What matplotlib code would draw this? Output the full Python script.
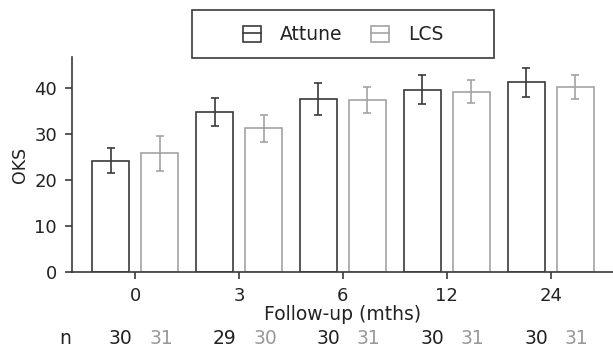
import matplotlib
matplotlib.use("Agg")
import matplotlib.pyplot as plt
from matplotlib.patches import Rectangle
from matplotlib.lines import Line2D
from matplotlib.legend_handler import HandlerTuple
import numpy as np

plt.rcParams['font.family'] = ['DejaVu Sans']

# data
months = ['0', '3', '6', '12', '24']
attune_mean = [24.2, 34.8, 37.5, 39.6, 41.2]
attune_err = [2.8, 3.1, 3.5, 3.2, 3.1]
lcs_mean = [25.8, 31.2, 37.4, 39.2, 40.1]
lcs_err = [3.8, 2.9, 2.8, 2.5, 2.6]
attune_n = [30, 29, 30, 30, 30]
lcs_n = [31, 30, 31, 31, 31]

dark = '#3a3a3a'
gray = '#a3a3a3'
txt = '#222222'

fig = plt.figure(figsize=(6.13, 3.49), dpi=100)
ax = fig.add_axes([0.118, 0.2206, 0.882, 0.616])

x = np.arange(len(months))
w = 0.355
off = 0.236

ax.bar(x - off, attune_mean, w, facecolor='white', edgecolor=dark, linewidth=1.2, zorder=2)
ax.bar(x + off, lcs_mean, w, facecolor='white', edgecolor=gray, linewidth=1.2, zorder=2)
ax.errorbar(x - off, attune_mean, yerr=attune_err, fmt='none', ecolor=dark,
            elinewidth=1.2, capsize=3, capthick=1.2, zorder=3)
ax.errorbar(x + off, lcs_mean, yerr=lcs_err, fmt='none', ecolor=gray,
            elinewidth=1.2, capsize=3, capthick=1.2, zorder=3)

ax.set_xlim(-0.605, 4.6)
ax.set_ylim(0, 46.7)
ax.set_yticks([0, 10, 20, 30, 40])
ax.set_xticks(x)
ax.set_xticklabels(months)

for s in ['top', 'right']:
    ax.spines[s].set_visible(False)
for s in ['left', 'bottom']:
    ax.spines[s].set_color(dark)
    ax.spines[s].set_linewidth(1.2)
ax.tick_params(axis='both', colors=dark, labelcolor=txt, labelsize=13,
               length=5, width=1.2)
ax.tick_params(axis='y', pad=6)
ax.tick_params(axis='x', pad=6)

ax.set_ylabel('OKS', fontsize=12.5, color=txt, labelpad=4)
ax.set_xlabel('Follow-up (mths)', fontsize=13.5, color=txt, labelpad=0)

# n row under the axis
tr = ax.get_xaxis_transform()
ny = -0.355
ax.text(-0.67, ny, 'n', transform=tr, ha='center', va='bottom',
        fontsize=13.5, color=txt)
for i in range(len(months)):
    ax.text(x[i] - 0.14, ny, str(attune_n[i]), transform=tr, ha='center',
            va='bottom', fontsize=13.5, color=txt)
    ax.text(x[i] + 0.25, ny, str(lcs_n[i]), transform=tr, ha='center',
            va='bottom', fontsize=13.5, color='#999999')

h1 = (Rectangle((0, 0), 1, 1, facecolor='white', edgecolor=dark, linewidth=1.2),
      Line2D([0], [0], color=dark, linewidth=1.2))
h2 = (Rectangle((0, 0), 1, 1, facecolor='white', edgecolor=gray, linewidth=1.2),
      Line2D([0], [0], color=gray, linewidth=1.2))
leg = fig.legend([h1, h2], ['Attune', 'LCS'], loc='center',
                 bbox_to_anchor=(343 / 613, 1 - 35 / 349), ncol=2,
                 handler_map={tuple: HandlerTuple(ndivide=1)},
                 fontsize=13.5, frameon=False,
                 handlelength=1.0, handleheight=0.9, handletextpad=1.0,
                 columnspacing=1.5, borderpad=0, borderaxespad=0)
for t in leg.get_texts():
    t.set_color(txt)

# legend frame (wider than the entries)
fig.patches.append(Rectangle((192 / 613, 1 - 58 / 349), 302 / 613, 48 / 349,
                             transform=fig.transFigure, fill=False,
                             edgecolor=dark, linewidth=1.2))

fig.savefig('out.png', dpi=100)
